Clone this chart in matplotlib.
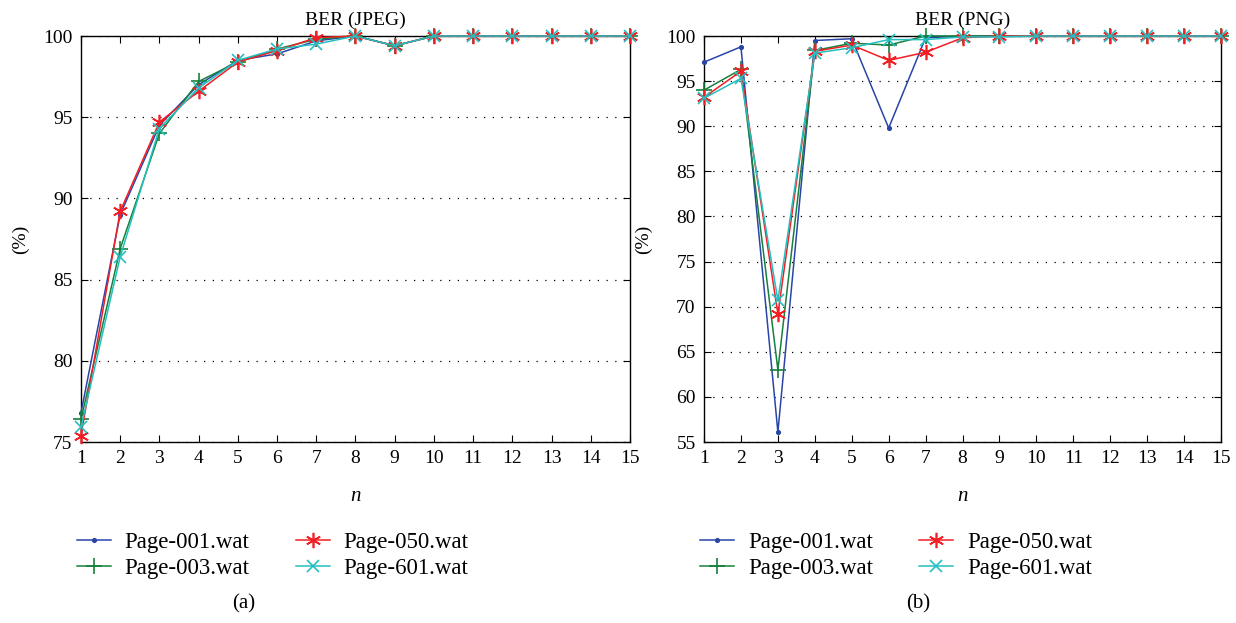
import matplotlib.pyplot as plt

plt.rcParams['font.family'] = ['Liberation Serif', 'DejaVu Serif']

n = list(range(1, 16))
names = ["Page-001.wat", "Page-003.wat", "Page-050.wat", "Page-601.wat"]

# BER under JPEG compression (%)
jpeg_001 = [76.8, 89.0, 94.5, 97.0, 98.5, 98.9, 99.7, 100, 99.4, 100, 100, 100, 100, 100, 100]
jpeg_003 = [76.4, 86.9, 94.0, 97.2, 98.4, 99.2, 99.8, 100, 99.4, 100, 100, 100, 100, 100, 100]
jpeg_050 = [75.4, 89.2, 94.7, 96.6, 98.4, 99.1, 99.9, 100, 99.4, 100, 100, 100, 100, 100, 100]
jpeg_601 = [75.9, 86.4, 94.3, 96.8, 98.5, 99.2, 99.5, 100, 99.4, 100, 100, 100, 100, 100, 100]

# BER under PNG compression (%)
png_001 = [97.1, 98.8, 56.1, 99.5, 99.7, 89.8, 99.8, 100, 100, 100, 100, 100, 100, 100, 100]
png_003 = [94.0, 96.3, 63.0, 98.4, 99.2, 99.0, 100, 100, 100, 100, 100, 100, 100, 100, 100]
png_050 = [93.2, 96.1, 69.2, 98.3, 99.0, 97.3, 98.2, 99.8, 100, 100, 100, 100, 100, 100, 100]
png_601 = [93.1, 95.3, 70.7, 98.1, 98.7, 99.6, 99.6, 99.9, 99.9, 100, 100, 100, 100, 100, 100]

colors = ["#2a45a8", "#16803c", "#f21e24", "#25bfc0"]
markers = [".", "+", (6, 2, 0), "x"]
msizes = [5, 11, 11, 9]

fig = plt.figure(figsize=(12.36, 6.23), dpi=100)
ax1 = fig.add_axes([0.0655, 0.2905, 0.4442, 0.6517])
ax2 = fig.add_axes([0.5696, 0.2905, 0.4183, 0.6517])


def draw(ax, series, title, ylo):
    for ys, name, c, m, ms in zip(series, names, colors, markers, msizes):
        ax.plot(n, ys, color=c, marker=m, markersize=ms, linewidth=1.1,
                markeredgewidth=1.2, label=name, clip_on=False, zorder=3)
    ax.set_xlim(1, 15)
    ax.set_ylim(ylo, 100)
    ax.set_xticks(n)
    ax.set_yticks(range(ylo, 101, 5))
    ax.yaxis.grid(True, linestyle=(0, (1, 6)), color="black", linewidth=0.9)
    ax.tick_params(direction="in", top=True, right=True, labelsize=14, length=5, pad=6)
    ax.set_title(title, fontsize=14, pad=8)
    ax.set_ylabel("(%)", fontsize=14, labelpad=10)
    ax.set_xlabel("n", fontsize=15, style="italic", labelpad=14)
    for s in ax.spines.values():
        s.set_linewidth(1.0)
    ax.legend(loc="upper left", bbox_to_anchor=(-0.008, -0.222), ncol=2, frameon=False,
              fontsize=16.5, handlelength=1.5, columnspacing=2.0, labelspacing=0.2,
              handletextpad=0.6, borderpad=0, borderaxespad=0)


draw(ax1, [jpeg_001, jpeg_003, jpeg_050, jpeg_601], "BER (JPEG)", 75)
draw(ax2, [png_001, png_003, png_050, png_601], "BER (PNG)", 55)

fig.text(0.197, 0.031, "(a)", fontsize=15, ha="center", va="center")
fig.text(0.743, 0.031, "(b)", fontsize=15, ha="center", va="center")

fig.savefig("out.png", dpi=100)
